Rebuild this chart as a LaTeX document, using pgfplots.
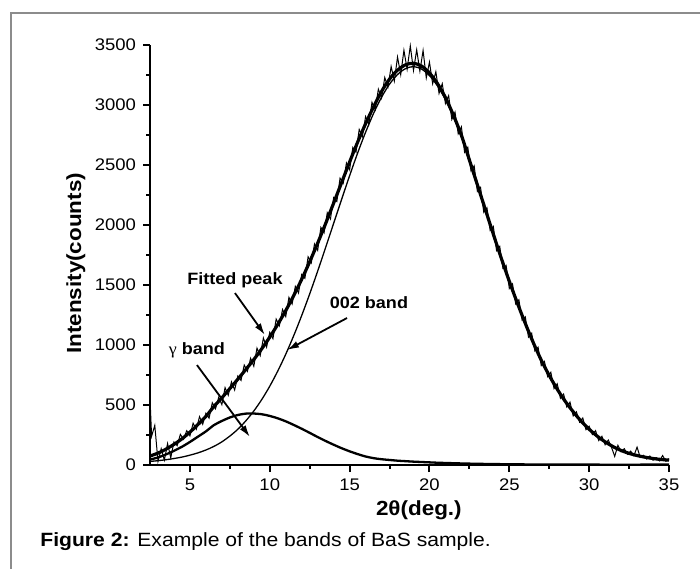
\documentclass[border=0pt]{standalone}
\usepackage{pgfplots}
\pgfplotsset{compat=1.18}
\usepackage{pgfplotstable}
\usetikzlibrary{arrows.meta}
\usepackage{fontspec}
\setmainfont{Liberation Sans}[FakeStretch=1.1]
\newfontfamily\symfont{Liberation Serif}[FakeStretch=1.1]

\pgfplotstableread{
x y
2.5 560
2.6 240
2.8 330
3.0 30
3.2 136
3.4 40
3.6 179
3.8 60
4.0 192
4.2 161
4.4 255
4.6 215
4.8 286
5.0 243
5.2 348
5.4 298
5.6 403
5.8 340
6.0 431
6.2 390
6.4 519
6.6 468
6.8 563
7.0 503
7.2 645
7.4 581
7.6 693
7.8 625
8.0 742
8.2 705
8.4 833
8.6 781
8.8 889
9.0 823
9.2 974
9.4 911
9.6 1058
9.8 982
10.0 1106
10.2 1053
10.4 1216
10.6 1160
10.8 1296
11.0 1237
11.2 1397
11.4 1342
11.6 1489
11.8 1434
12.0 1588
12.2 1556
12.4 1735
12.6 1685
12.8 1842
13.0 1789
13.2 1980
13.4 1935
13.6 2102
13.8 2050
14.0 2228
14.2 2196
14.4 2390
14.6 2348
14.8 2517
15.0 2460
15.2 2646
15.4 2607
15.6 2796
15.8 2737
16.0 2904
16.2 2840
16.4 3022
16.6 2961
16.8 3132
17.0 3058
17.2 3229
17.4 3150
17.6 3321
17.8 3200
18.0 3400
18.2 3253
18.4 3456
18.6 3298
18.8 3493
19.0 3288
19.2 3460
19.4 3282
19.6 3455
19.8 3226
20.0 3357
20.2 3177
20.4 3277
20.6 3096
20.8 3178
21.0 3012
21.2 3078
21.4 2879
21.6 2941
21.8 2760
22.0 2818
22.2 2606
22.4 2648
22.6 2451
22.8 2493
23.0 2280
23.2 2313
23.4 2106
23.6 2143
23.8 1955
24.0 1988
24.2 1787
24.4 1822
24.6 1639
24.8 1663
25.0 1471
25.2 1509
25.4 1342
25.6 1377
25.8 1208
26.0 1235
26.2 1066
26.4 1098
26.6 951
26.8 982
27.0 829
27.2 863
27.4 737
27.6 773
27.8 637
28.0 677
28.2 556
28.4 591
28.6 484
28.8 524
29.0 409
29.2 443
29.4 357
29.6 392
29.8 295
30.0 323
30.2 254
30.4 286
30.6 204
30.8 239
31.0 169
31.2 208
31.4 147
31.6 72
31.8 164
32.0 111
32.2 136
32.4 90
32.6 116
32.8 77
33.0 149
33.2 63
33.4 81
33.6 50
33.8 75
34.0 40
34.2 61
34.4 34
34.6 79
34.8 31
35.0 53
}\rawdata

\pgfplotstableread{
x y
2.5 75
3 99
3.5 132
4 172
4.5 218
5 274
5.5 337
6 405
6.5 487
7 560
7.5 637
8 715
8.5 796
9 879
9.5 969
10 1066
10.5 1172
11 1287
11.5 1412
12 1548
12.5 1694
13 1849
13.5 2013
14 2183
14.5 2354
15 2525
15.5 2690
16 2844
16.5 2985
17 3113
17.5 3216
18 3290
18.5 3335
19 3348
19.5 3325
20 3267
20.5 3179
21 3062
21.5 2915
22 2748
22.5 2542
23 2335
23.5 2129
24 1923
24.5 1722
25 1531
25.5 1351
26 1180
26.5 1020
27 874
27.5 746
28 632
28.5 531
29 444
29.5 365
30 298
30.5 241
31 193
31.5 153
32 121
32.5 97
33 79
33.5 65
34 54
34.5 46
35 41
}\fitted

\pgfplotstableread{
x y
2.5 30
3 36
3.5 44
4 54
4.5 66
5 82
5.5 101
6 125
6.5 155
7 193
7.5 241
8 298
8.5 368
9 450
9.5 546
10 657
10.5 783
11 923
11.5 1078
12 1246
12.5 1426
13 1616
13.5 1813
14 2014
14.5 2214
15 2411
15.5 2599
16 2773
16.5 2930
17 3065
17.5 3174
18 3254
18.5 3303
19 3320
19.5 3300
20 3245
20.5 3160
21 3045
21.5 2900
22 2735
22.5 2530
23 2325
23.5 2120
24 1915
24.5 1715
25 1525
25.5 1345
26 1175
26.5 1015
27 870
27.5 742
28 628
28.5 527
29 440
29.5 362
30 295
30.5 238
31 190
31.5 150
32 118
32.5 94
33 76
33.5 62
34 51
34.5 43
35 38
}\bandtwo

\pgfplotstableread{
x y
2.5 45
3 63
3.5 88
4 118
4.5 152
5 192
5.5 236
6 280
6.5 332
7 367
7.5 396
8 417
8.5 428
8.8 430
9 429
9.5 423
10 409
10.5 389
11 364
11.5 334
12 302
12.5 268
13 233
13.5 200
14 169
14.5 140
15 114
15.5 91
16 71
16.5 57
17 48
17.5 42
18 36
18.5 32
19 28
19.5 25
20 22
20.5 19
21 17
22 13
23 10
24 8
25 6
26 5
28 4
30 3
35 3
}\gammaband

\begin{document}
\begin{tikzpicture}
\useasboundingbox (0,0) rectangle (350pt,284pt);
\draw[gray!90, line width=0.7pt] (5.5pt,-2pt) -- (5.5pt,277.5pt) -- (352pt,277.5pt);
\begin{axis}[
  at={(75pt,51.5pt)}, anchor=south west,
  scale only axis, width=259.5pt, height=210pt,
  xmin=2.5, xmax=35, ymin=0, ymax=3500,
  axis lines=left, axis line style={-, line width=1.35pt},
  xtick={5,10,...,35}, ytick={0,500,...,3500},
  minor xtick={7.5,12.5,...,32.5}, minor ytick={250,750,...,3250},
  tick align=outside, major tick length=3.5pt, minor tick length=2pt,
  every tick/.style={black, line width=1pt},
  tick label style={font=\fontsize{8.4}{10}\selectfont},
  /pgf/number format/assume math mode=true,
  scaled y ticks=false,
  yticklabel style={/pgf/number format/1000 sep={}},
  xlabel={2θ(deg.)}, ylabel={Intensity(counts)},
  label style={font=\fontsize{10.2}{12}\selectfont\bfseries},
  xlabel style={at={(axis description cs:0.518,-0.107)}, anchor=center},
  ylabel style={at={(axis description cs:-0.143,0.48)}, anchor=center, rotate=0},
  clip=false,
]
\addplot[black, line width=0.5pt] table {\rawdata};
\addplot[black, line width=0.65pt, smooth] table {\bandtwo};
\addplot[black, line width=1.15pt, smooth] table {\gammaband};
\addplot[black, line width=1.6pt, smooth] table {\fitted};
\node[font=\fontsize{8.2}{10}\selectfont\bfseries] at (axis cs:7.82,1542) {Fitted peak};
\node[font=\fontsize{8.2}{10}\selectfont\bfseries] at (axis cs:16.21,1350) {002 band};
\node[font=\fontsize{8.2}{10}\selectfont] at (axis cs:5.44,958) {{\symfont γ} \textbf{band}};
\draw[line width=0.9pt, -{Latex[length=6pt,width=3.5pt]}] (axis cs:7.82,1433) -- (axis cs:9.70,1083);
\draw[line width=0.9pt, -{Latex[length=6pt,width=3.5pt]}] (axis cs:14.84,1225) -- (axis cs:11.08,958);
\draw[line width=0.9pt, -{Latex[length=6pt,width=3.5pt]}] (axis cs:5.44,833) -- (axis cs:8.76,233);
\end{axis}
\node[anchor=base west, inner sep=0pt, font=\fontsize{9.6}{11}\selectfont] at (20pt,11pt) {\textbf{Figure 2:} Example of the bands of BaS sample.};
\end{tikzpicture}
\end{document}
